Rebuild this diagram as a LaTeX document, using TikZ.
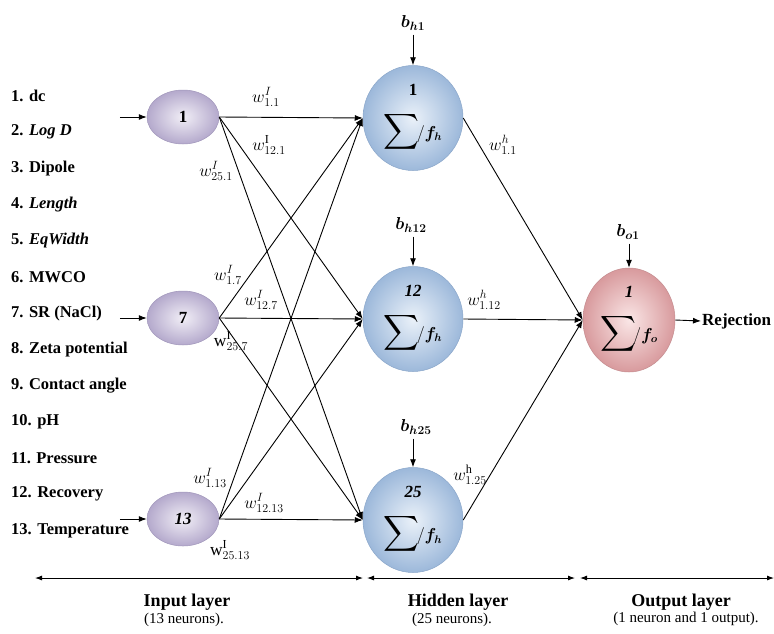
\documentclass[tikz,border=0pt]{standalone}
\usepackage{fontspec}
\setmainfont{Liberation Serif}
\usepackage{amsmath}
\usepackage{bm}
\usetikzlibrary{arrows.meta,shapes.geometric,positioning}

\definecolor{inpIn}{HTML}{F1EEF6}
\definecolor{inpOut}{HTML}{B4A9CC}
\definecolor{inpLine}{HTML}{A096BA}
\definecolor{hidIn}{HTML}{EAF1F9}
\definecolor{hidOut}{HTML}{9CB8DA}
\definecolor{hidLine}{HTML}{8AA6C9}
\definecolor{outIn}{HTML}{FAE6E6}
\definecolor{outOut}{HTML}{D89A9D}
\definecolor{outLine}{HTML}{C48C8F}

\newcommand{\sumf}[1]{{\fontsize{24}{24}\selectfont$\displaystyle\sum$}{\fontsize{16}{16}\selectfont$\!/\bm{f_{#1}}$}}

\begin{document}
\begin{tikzpicture}[x=1pt,y=-1pt,
  conn/.style={-{Latex[length=8pt,width=6pt]},line width=0.9pt},
  axis/.style={{Latex[length=7pt,width=5pt]}-{Latex[length=7pt,width=5pt]},line width=0.9pt},
  item/.style={anchor=west,inner sep=1pt,font=\fontsize{16.5}{18}\selectfont\bfseries},
  wlab/.style={inner sep=0pt,font=\fontsize{17.5}{18}\selectfont},
  bias/.style={inner sep=1pt,font=\fontsize{18}{18}\selectfont},
  inneuron/.style={ellipse,minimum width=72pt,minimum height=54pt,inner sep=0pt,
    inner color=inpIn,outer color=inpOut,draw=inpLine,line width=0.5pt,
    font=\fontsize{17}{17}\selectfont},
  hidneuron/.style={ellipse,minimum width=100pt,minimum height=105pt,inner sep=0pt,
    inner color=hidIn,outer color=hidOut,draw=hidLine,line width=0.5pt,
    align=center,font=\fontsize{17}{17}\selectfont},
  outneuron/.style={ellipse,minimum width=92pt,minimum height=104pt,inner sep=0pt,
    inner color=outIn,outer color=outOut,draw=outLine,line width=0.5pt,
    align=center,font=\fontsize{17}{17}\selectfont},
  layer/.style={font=\fontsize{18}{18}\selectfont\bfseries,inner sep=0pt},
  count/.style={font=\fontsize{15}{15}\selectfont,inner sep=0pt}]
\useasboundingbox (0,0) rectangle (774,633);

% list of inputs
\foreach \txt [count=\k] in {1. dc, 2. \textit{Log D}, 3. Dipole, 4. \textit{Length},
    5. \textit{EqWidth}, 6. MWCO, 7. SR (NaCl), 8. Zeta potential, 9. Contact angle,
    10. pH, 11. Pressure, 12. Recovery, 13. Temperature}
  \node[item] (l\k) at (10,{96+(\k-1)*36.2}) {\txt};

% input layer
\node[inneuron] (i1) at (183,117) {\textbf{1}};
\node[inneuron] (i7) at (183,318) {\textbf{7}};
\node[inneuron] (i13) at (183,519) {\textbf{\textit{13}}};
\foreach \n in {1,7,13} {
  \coordinate[left=27pt of i\n] (s\n);
  \draw[conn] (s\n) -- (i\n.west);
}

% hidden layer
\node[hidneuron] (h1) at (413,118) {\textbf{1}\\[16pt] \sumf{h}};
\node[hidneuron] (h12) at (413,319) {\textbf{\textit{12}}\\[16pt] \sumf{h}};
\node[hidneuron] (h25) at (413,520) {\textbf{\textit{25}}\\[16pt] \sumf{h}};

% output layer
\node[outneuron] (o1) at (629,320) {\textbf{\textit{1}}\\[16pt] \sumf{o}};

% weights input -> hidden
\foreach \a in {1,7,13}
  \foreach \b in {1,12,25}
    \draw[conn] (i\a.east) -- (h\b.west);
% weights hidden -> output
\foreach \b in {1,12,25}
  \draw[conn] (h\b.east) -- (o1.west);

% weight labels
\node[wlab] (w11) at (266,97) {$w^{I}_{1.1}$};
\node[wlab] (w121) at (269,145) {$w^{\mathrm{I}}_{12.1}$};
\node[wlab] (w251) at (216,171) {$w^{I}_{25.1}$};
\node[wlab] (w17) at (228,275) {$w^{I}_{1.7}$};
\node[wlab] (w127) at (261,300) {$w^{I}_{12.7}$};
\node[wlab] (w257) at (231,341) {$\mathrm{w}^{\mathrm{I}}_{25.7}$};
\node[wlab] (w113) at (210,478) {$w^{I}_{1.13}$};
\node[wlab] (w1213) at (264,503) {$w^{I}_{12.13}$};
\node[wlab] (w2513) at (230,550) {$\mathrm{w}^{\mathrm{I}}_{25.13}$};
\node[wlab] (wh11) at (503,145) {$w^{h}_{1.1}$};
\node[wlab] (wh112) at (484,300) {$w^{h}_{1.12}$};
\node[wlab] (wh125) at (470,475) {$w^{\mathrm{h}}_{1.25}$};

% biases
\node[bias] (bh1) at (413,23) {$\bm{b_{h1}}$};
\node[bias] (bh12) at (411,225) {$\bm{b_{h12}}$};
\node[bias] (bh25) at (416,427) {$\bm{b_{h25}}$};
\node[bias] (bo1) at (628,232) {$\bm{b_{o1}}$};
\foreach \b in {1,12,25}
  \draw[conn,shorten <=3pt] (bh\b.south -| h\b.north) -- (h\b.north);
\draw[conn,shorten <=3pt] (bo1.south -| o1.north) -- (o1.north);

% output
\node[anchor=west,inner sep=1pt,font=\fontsize{17}{17}\selectfont\bfseries] (rej) at (701,321) {Rejection};
\draw[conn] (o1.east) -- (rej.west);

% layer axis
\coordinate (a0) at (35,578);
\coordinate (a1) at (363,578);
\coordinate (a2) at (367,578);
\coordinate (a3) at (575,578);
\coordinate (a4) at (580,578);
\coordinate (a5) at (774,578);
\draw[axis] (a0) -- (a1);
\draw[axis] (a2) -- (a3);
\draw[axis] (a4) -- (a5);

\node[layer] (lin) at (187,602) {Input layer};
\node[count] (nin) at (184,620) {(13 neurons).};
\node[layer] (lhid) at (458,602) {Hidden layer};
\node[count] (nhid) at (452,620) {(25 neurons).};
\node[layer] (lout) at (681,602) {Output layer};
\node[count] (nout) at (686,619) {(1 neuron and 1 output).};
\end{tikzpicture}
\end{document}
